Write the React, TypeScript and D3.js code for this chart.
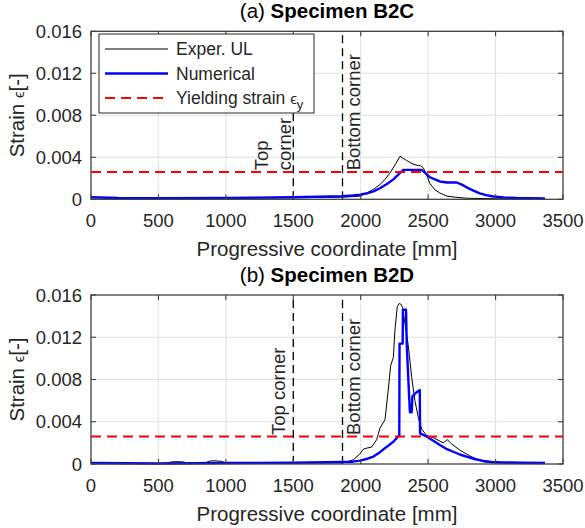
import React, { useEffect, useRef } from "react";
import * as d3 from "d3";

type Pt = [number, number];

// axis ticks
const xTicks = [0, 500, 1000, 1500, 2000, 2500, 3000, 3500];
const yTicks = [0, 0.004, 0.008, 0.012, 0.016];
const yTickLabels = ["0", "0.004", "0.008", "0.012", "0.016"];

const yieldStrain = 0.0026;
const topCornerX = 1500;
const bottomCornerX = 1865;

// (a) Specimen B2C - [progressive coordinate mm, strain]
const b2cExper: Pt[] = [
  [0, 0.0002], [100, 0.00012], [300, 0.00005], [600, 0.00005], [1000, 0.00008],
  [1500, 0.00015], [1865, 0.0002], [1995, 0.0003], [2044, 0.0006], [2094, 0.00095],
  [2143, 0.0014], [2180, 0.0019], [2217, 0.0025], [2260, 0.0034], [2291, 0.0041],
  [2315, 0.0039], [2340, 0.0037], [2380, 0.0034], [2402, 0.0033], [2430, 0.0032],
  [2445, 0.0032], [2464, 0.003], [2490, 0.0023], [2513, 0.0015], [2550, 0.0009],
  [2587, 0.0006], [2640, 0.0003], [2700, 0.0002], [2785, 0.0001], [3000, 0.00005],
  [3366, 0.00004],
];
const b2cNum: Pt[] = [
  [0, 0.0002], [200, 0.00012], [500, 0.0001], [1000, 0.00013], [1500, 0.0002],
  [1865, 0.0003], [1940, 0.00036], [1995, 0.00045], [2050, 0.00058], [2094, 0.00075],
  [2143, 0.00105], [2200, 0.0015], [2242, 0.0019], [2290, 0.0025], [2316, 0.0028],
  [2350, 0.0028], [2452, 0.0028], [2480, 0.0025], [2513, 0.0021], [2550, 0.0019],
  [2587, 0.0017], [2640, 0.0016], [2711, 0.0016], [2750, 0.0014], [2785, 0.00114],
  [2840, 0.0008], [2884, 0.00057], [2930, 0.0004], [2983, 0.00027], [3060, 0.00018],
  [3157, 0.00012], [3366, 0.00008],
];

// (b) Specimen B2D
const b2dExper: Pt[] = [
  [0, 0.0001], [500, 0.00005], [561, 0.0001], [600, 0.0002], [648, 0.00022],
  [690, 0.00018], [710, 0.0001], [845, 0.0001], [880, 0.00028], [920, 0.0003],
  [970, 0.00025], [994, 0.0001], [1200, 0.0001], [1500, 0.0001], [1871, 0.0001],
  [1945, 0.0004], [1990, 0.0009], [2019, 0.0014], [2044, 0.0015], [2081, 0.0016],
  [2118, 0.0023], [2143, 0.0034], [2180, 0.0042], [2204, 0.007], [2222, 0.0093],
  [2242, 0.0101], [2254, 0.0127], [2271, 0.0149], [2286, 0.0152], [2300, 0.0151],
  [2311, 0.0148], [2328, 0.0133], [2353, 0.0112], [2378, 0.0082], [2402, 0.006],
  [2427, 0.0044], [2452, 0.0033], [2489, 0.0027], [2538, 0.0025], [2612, 0.002],
  [2642, 0.0023], [2674, 0.0019], [2736, 0.0013], [2810, 0.00076], [2909, 0.0002],
  [2983, 0.0001], [3366, 0.00008],
];
const b2dNum: Pt[] = [
  [0, 0.0001], [500, 0.00005], [1000, 0.0001], [1500, 0.00012], [1865, 0.0002],
  [1940, 0.00022], [1995, 0.00032], [2050, 0.0005], [2094, 0.0007], [2143, 0.00112],
  [2180, 0.0015], [2220, 0.0019], [2242, 0.0021], [2270, 0.0025], [2286, 0.0027],
  [2288, 0.0114], [2311, 0.0114], [2313, 0.0146], [2336, 0.0146], [2341, 0.0114],
  [2360, 0.0061], [2365, 0.0049], [2378, 0.0049], [2383, 0.0064], [2415, 0.0068],
  [2438, 0.007], [2440, 0.0029], [2489, 0.0026], [2538, 0.0022], [2587, 0.0018],
  [2640, 0.0014], [2686, 0.00116], [2735, 0.0009], [2785, 0.0007], [2850, 0.00045],
  [2909, 0.0003], [2970, 0.0002], [3033, 0.00016], [3200, 0.00012], [3366, 0.0001],
];

const FONT = "'Liberation Sans', Arial, Helvetica, sans-serif";
const AXIS_COLOR = "#262626";

function drawPanel(svg: any, opts: any) {
  const { top, bottom, titleTag, titleBold, exper, num, legend, splitTopLabel } = opts;
  const left = 91;
  const right = 563;

  const x = d3.scaleLinear().domain([0, 3500]).range([left, right]);
  const y = d3.scaleLinear().domain([0, 0.016]).range([bottom, top]);

  const g = svg.append("g");

  // white plot background
  g.append("rect")
    .attr("x", left).attr("y", top)
    .attr("width", right - left).attr("height", bottom - top)
    .attr("fill", "#fff");

  // grid
  g.selectAll(".gx").data(xTicks.slice(1, -1)).enter().append("line")
    .attr("x1", (d) => x(d)).attr("x2", (d) => x(d))
    .attr("y1", top).attr("y2", bottom)
    .attr("stroke", "#e1e1e1").attr("stroke-width", 1);
  g.selectAll(".gy").data(yTicks.slice(1, -1)).enter().append("line")
    .attr("x1", left).attr("x2", right)
    .attr("y1", (d) => y(d)).attr("y2", (d) => y(d))
    .attr("stroke", "#e1e1e1").attr("stroke-width", 1);

  // corner markers
  [topCornerX, bottomCornerX].forEach((c) => {
    g.append("line")
      .attr("x1", x(c)).attr("x2", x(c))
      .attr("y1", bottom).attr("y2", top)
      .attr("stroke", "#000").attr("stroke-width", 1.3)
      .attr("stroke-dasharray", "8,5");
  });

  // data lines
  const line = d3.line<Pt>().x((d) => x(d[0])).y((d) => y(d[1]));
  g.append("path").datum(exper).attr("d", line)
    .attr("fill", "none").attr("stroke", "#000").attr("stroke-width", 1);
  g.append("path").datum(num).attr("d", line)
    .attr("fill", "none").attr("stroke", "#0000ff").attr("stroke-width", 2.4)
    .attr("stroke-linejoin", "round");

  // yield strain
  g.append("line")
    .attr("x1", left).attr("x2", right)
    .attr("y1", y(yieldStrain)).attr("y2", y(yieldStrain))
    .attr("stroke", "#ff0000").attr("stroke-width", 2)
    .attr("stroke-dasharray", "10,6");

  // corner labels
  const labelY = bottom - 29;
  const txt = (tx: number, ty: number, s: string) =>
    g.append("text")
      .attr("transform", `translate(${tx},${ty}) rotate(-90)`)
      .attr("font-family", FONT).attr("font-size", 18.5)
      .attr("fill", AXIS_COLOR).text(s);
  if (splitTopLabel) {
    txt(x(topCornerX) - 25, labelY, "Top");
    txt(x(topCornerX) - 2, labelY, "corner");
  } else {
    txt(x(topCornerX) - 8, labelY, "Top corner");
  }
  txt(x(bottomCornerX) + 17, labelY, "Bottom corner");

  // box
  g.append("rect")
    .attr("x", left).attr("y", top)
    .attr("width", right - left).attr("height", bottom - top)
    .attr("fill", "none").attr("stroke", "#404040").attr("stroke-width", 1.3);

  // ticks (inward, all four sides)
  const tl = 5;
  xTicks.forEach((t) => {
    g.append("line").attr("x1", x(t)).attr("x2", x(t))
      .attr("y1", bottom).attr("y2", bottom - tl)
      .attr("stroke", "#404040").attr("stroke-width", 1.1);
    g.append("line").attr("x1", x(t)).attr("x2", x(t))
      .attr("y1", top).attr("y2", top + tl)
      .attr("stroke", "#404040").attr("stroke-width", 1.1);
  });
  yTicks.forEach((t) => {
    g.append("line").attr("x1", left).attr("x2", left + tl)
      .attr("y1", y(t)).attr("y2", y(t))
      .attr("stroke", "#404040").attr("stroke-width", 1.1);
    g.append("line").attr("x1", right).attr("x2", right - tl)
      .attr("y1", y(t)).attr("y2", y(t))
      .attr("stroke", "#404040").attr("stroke-width", 1.1);
  });

  // tick labels
  g.selectAll(".xl").data(xTicks).enter().append("text")
    .attr("x", (d) => x(d)).attr("y", bottom + 28)
    .attr("text-anchor", "middle")
    .attr("font-family", FONT).attr("font-size", 18.5).attr("fill", AXIS_COLOR)
    .text((d) => String(d));
  g.selectAll(".yl").data(yTicks).enter().append("text")
    .attr("x", left - 9).attr("y", (d) => y(d) + 6.6)
    .attr("text-anchor", "end")
    .attr("font-family", FONT).attr("font-size", 18.5).attr("fill", AXIS_COLOR)
    .text((d, i) => yTickLabels[i]);

  // axis labels
  g.append("text")
    .attr("x", (left + right) / 2).attr("y", bottom + 57)
    .attr("text-anchor", "middle")
    .attr("font-family", FONT).attr("font-size", 20.5).attr("fill", AXIS_COLOR)
    .text("Progressive coordinate [mm]");
  const yl = g.append("text")
    .attr("transform", `translate(24,${(top + bottom) / 2}) rotate(-90)`)
    .attr("text-anchor", "middle")
    .attr("font-family", FONT).attr("font-size", 20.5).attr("fill", AXIS_COLOR);
  yl.append("tspan").text("Strain ");
  yl.append("tspan").attr("font-size", 15).text("\u03f5");
  yl.append("tspan").text("[-]");

  // title
  const tt = g.append("text")
    .attr("x", (left + right) / 2).attr("y", top - 13)
    .attr("text-anchor", "middle")
    .attr("font-family", FONT).attr("font-size", 20.5).attr("fill", "#000");
  tt.append("tspan").text(titleTag + " ");
  tt.append("tspan").attr("font-weight", "bold").text(titleBold);

  // legend
  if (legend) {
    const lx = 99, ly = 34, lw = 215, lh = 79;
    const lg = g.append("g");
    lg.append("rect").attr("x", lx).attr("y", ly).attr("width", lw).attr("height", lh)
      .attr("fill", "#fff").attr("stroke", "#262626").attr("stroke-width", 1);
    const rows = [
      { label: "Exper. UL", color: "#000", w: 1, dash: null },
      { label: "Numerical", color: "#0000ff", w: 2.4, dash: null },
      { label: "Yielding strain ", color: "#ff0000", w: 2, dash: "10,6" },
    ];
    rows.forEach((r, i) => {
      const ry = ly + 15 + i * 24.5;
      const ln = lg.append("line").attr("x1", lx + 6).attr("x2", lx + 69)
        .attr("y1", ry).attr("y2", ry)
        .attr("stroke", r.color).attr("stroke-width", r.w);
      if (r.dash) ln.attr("stroke-dasharray", r.dash);
      const t = lg.append("text").attr("x", lx + 77).attr("y", ry + 6.3)
        .attr("font-family", FONT).attr("font-size", 17.5).attr("fill", AXIS_COLOR);
      t.append("tspan").text(r.label);
      if (i === 2) {
        t.append("tspan").attr("font-size", 15).text("\u03f5");
        t.append("tspan").attr("font-size", 13).attr("dy", 5).text("y");
      }
    });
  }
}

export default function App() {
  const svgRef = useRef<SVGSVGElement>(null);

  useEffect(() => {
    const svg = d3.select(svgRef.current);
    svg.selectAll("*").remove();

    drawPanel(svg, {
      top: 31.3, bottom: 199.3,
      titleTag: "(a)", titleBold: "Specimen B2C",
      exper: b2cExper, num: b2cNum,
      legend: true, splitTopLabel: true,
    });
    drawPanel(svg, {
      top: 295, bottom: 464,
      titleTag: "(b)", titleBold: "Specimen B2D",
      exper: b2dExper, num: b2dNum,
      legend: false, splitTopLabel: false,
    });
  }, []);

  return (
    <svg
      ref={svgRef}
      width={585}
      height={528}
      style={{ position: "absolute", left: 0, top: 0, background: "#fff" }}
    />
  );
}
